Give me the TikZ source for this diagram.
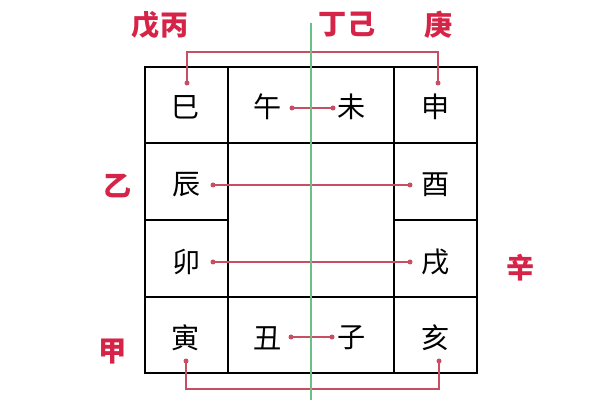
\documentclass[tikz,border=0pt]{standalone}
\usepackage{fontspec}
\usepackage{xcolor}
\usepackage{tikz}
\newfontfamily\cjk{Noto Sans CJK SC}
\definecolor{stemred}{RGB}{214,36,72}
\definecolor{linkred}{RGB}{200,78,100}
\definecolor{axisgreen}{RGB}{110,190,135}

\begin{document}
\begin{tikzpicture}[x=0.025cm,y=-0.025cm,
    branch/.style={font=\cjk\fontsize{20}{20}\selectfont},
    stem/.style={font=\cjk\bfseries\fontsize{20}{20}\selectfont, text=stemred},
    link/.style={draw=linkred, line width=0.9pt}]
                \useasboundingbox (0,0) rectangle (600,400);
                % Grid of the twelve branches
                \draw[line width=1.3pt] (145,67) rectangle (477,373);
                \foreach \x in {228, 394} {
                    \draw[line width=1.3pt] (\x,67) -- (\x,373);
                }
                \foreach \y in {143, 297} {
                    \draw[line width=1.3pt] (145,\y) -- (477,\y);
                }
                \draw[line width=1.3pt] (145,220) -- (228,220);
                \draw[line width=1.3pt] (394,220) -- (477,220);
                % Branches
                \node[branch] (si)   at (186,107) {巳};
                \node[branch] (wu)   at (268,107) {午};
                \node[branch] (wei)  at (352,107) {未};
                \node[branch] (shen) at (436,107) {申};
                \node[branch] (chen) at (187,185) {辰};
                \node[branch] (you)  at (436,185) {酉};
                \node[branch] (mao)  at (187,262) {卯};
                \node[branch] (xu)   at (436,262) {戌};
                \node[branch] (yin)  at (186,338) {寅};
                \node[branch] (chou) at (268,338) {丑};
                \node[branch] (zi)   at (352,338) {子};
                \node[branch] (hai)  at (436,338) {亥};
                % Stems
                \node[stem] (wubing) at (160,25) {戊丙};
                \node[stem] (dingji) at (347,25) {丁己};
                \node[stem] (geng)   at (439,25) {庚};
                \node[stem] (yi)     at (118,186) {乙};
                \node[stem] (xin)    at (521,268) {辛};
                \node[stem] (jia)    at (113,352) {甲};
                % Link ends
                \coordinate (siT)   at (187,83);
                \coordinate (shenT) at (438,83);
                \coordinate (wuR)   at (292,108);
                \coordinate (weiL)  at (333,108);
                \coordinate (chenR) at (213,185);
                \coordinate (youL)  at (410,185);
                \coordinate (maoR)  at (213,262);
                \coordinate (xuL)   at (410,262);
                \coordinate (chouR) at (291,337);
                \coordinate (ziL)   at (332,337);
                \coordinate (yinB)  at (186,361);
                \coordinate (haiB)  at (439,361);
                % Links
                \draw[link] (siT) -- (siT |- 0,52) -| (shenT);
                \draw[link] (wuR) -- (weiL);
                \draw[link] (chenR) -- (youL);
                \draw[link] (maoR) -- (xuL);
                \draw[link] (chouR) -- (ziL);
                \draw[link] (yinB) -- (yinB |- 0,389) -| (haiB);
                \foreach \p in {siT, shenT, wuR, weiL, chenR, youL, maoR, xuL, chouR, ziL, yinB, haiB} {
                    \fill[linkred] (\p) circle(2.5);
                }
                % Axis
                \draw[axisgreen, line width=0.8pt] (311,23) -- (311,400);
            \end{tikzpicture}
\end{document}
